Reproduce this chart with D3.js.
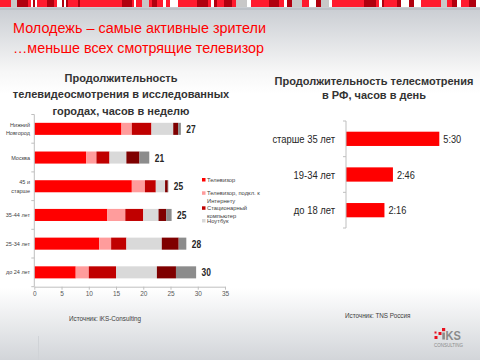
<!DOCTYPE html>
<html>
<head>
<meta charset="utf-8">
<script src="https://cdn.jsdelivr.net/npm/d3@7"></script>
<style>
  body { margin: 0; }
  svg { display: block; font-family: "Liberation Sans", Arial, sans-serif; }
</style>
</head>
<body>
<svg id="slide" width="480" height="360"></svg>
<script>
// левая диаграмма: часы в неделю по устройствам
var cities = ["Нижний\nНовгород", "Москва", "45 и\nстарше", "35-44 лет", "25-34 лет", "до 24 лет"];
var seriesNames = ["Телевизор", "Телевизор, подкл. к\nИнтернету", "Стационарный\nкомпьютер", "Ноутбук", "Прочее 1", "Прочее 2"];
var tv       = [16.0, 9.5, 17.9, 13.4, 11.9, 7.6];
var tvNet    = [1.9, 1.9, 2.4, 3.3, 2.2, 2.4];
var pc       = [3.6, 2.4, 2.0, 3.3, 2.8, 5.0];
var notebook = [4.0, 3.1, 1.7, 2.8, 6.5, 7.5];
var other1   = [0.9, 2.4, 0.5, 1.4, 3.1, 3.5];
var other2   = [0.5, 1.8, 0.1, 1.0, 1.4, 3.7];
var totals   = ["27", "21", "25", "25", "28", "30"];
var xTicks   = [0, 5, 10, 15, 20, 25, 30, 35];

// правая диаграмма: часы в день
var ages  = ["старше 35 лет", "19-34 лет", "до 18 лет"];
var hours = ["5:30", "2:46", "2:16"];

// полоска сверху (цвет, ширина)
var stripe = [
  ["r",11],["g",6],["d",11],["r",3],["w",2],["d",2],["w",2],["r",10],["d",7],["r",3],["w",5],["d",2],["w",2],["d",2],["r",10],["d",2],
  ["r",42],["d",10],["r",2],["w",2],["r",6],["g",7],["r",3],["d",5],["r",6],["w",3],["r",4],
  ["w",8],["r",19],["d",11],["r",3],["w",3],["d",3],["r",7],["d",8],["r",4],["g",11],["w",4],["r",18],["d",10],["r",5],["w",3],["d",5],["g",10],["r",7],["w",7],["d",5],["g",8],
  ["w",3],["r",32],["d",12],["r",3],["w",3],["d",2],["r",13],["d",4],["w",8],["d",5],["w",7],["r",20],["g",6],["r",5],["d",5],["w",4],["r",8],["d",7],["w",8],["g",5]
];
var stripeColors = {r: "#ff1a2e", d: "#b0000f", g: "#c8c8c8", w: "#ffffff"};

var colors = ["#ff0000", "#ff9c9c", "#c00000", "#d9d9d9", "#7f0000", "#8c8c8c"];

var svg = d3.select("#slide");

// сжатый текст (узкий шрифт не установлен)
function narrowText(parent, tx, ty, str, size, anchor, sx){
  return parent.append("g")
    .attr("transform", "translate(" + tx + "," + ty + ") scale(" + (sx || 0.82) + ",1)")
    .append("text")
    .attr("text-anchor", anchor || "start")
    .attr("font-size", size)
    .text(str);
}

// фон
var defs = svg.append("defs");
var grad = defs.append("linearGradient").attr("id", "bg").attr("x1", 0).attr("y1", 0).attr("x2", 0).attr("y2", 1);
grad.append("stop").attr("offset", 0).attr("stop-color", "#c4c8ce");
grad.append("stop").attr("offset", 0.2).attr("stop-color", "#f7f7f7");
grad.append("stop").attr("offset", 0.26).attr("stop-color", "#ffffff");
grad.append("stop").attr("offset", 0.8).attr("stop-color", "#ffffff");
grad.append("stop").attr("offset", 1).attr("stop-color", "#d2d5d9");
svg.append("rect").attr("width", 480).attr("height", 360).attr("fill", "url(#bg)");

var sx = 0;
svg.append("g").selectAll("rect")
  .data(stripe)
  .enter().append("rect")
  .attr("x", function(d){ var v = sx; sx += d[1]; return v; })
  .attr("y", 0)
  .attr("width", function(d){ return d[1]; })
  .attr("height", 7)
  .attr("fill", function(d){ return stripeColors[d[0]]; });
svg.append("rect").attr("x", 0).attr("y", 8).attr("width", 480).attr("height", 2).attr("fill", "#bcc1c7");

// заголовок
svg.append("text").attr("x", 13).attr("y", 32.5)
  .attr("fill", "#ff0000").attr("font-size", 15.5)
  .attr("textLength", 253).attr("lengthAdjust", "spacingAndGlyphs")
  .text("Молодежь – самые активные зрители");
svg.append("text").attr("x", 13).attr("y", 53)
  .attr("fill", "#ff0000").attr("font-size", 15.5)
  .attr("textLength", 251).attr("lengthAdjust", "spacingAndGlyphs")
  .text("…меньше всех смотрящие телевизор");

function multiTitle(lines, cx, y0, dy){
  var t = svg.append("text").attr("text-anchor", "middle")
    .attr("font-weight", "bold").attr("font-size", 11).attr("fill", "#333333");
  lines.forEach(function(l, i){
    t.append("tspan").attr("x", cx).attr("y", y0 + i*dy).text(l);
  });
}
multiTitle(["Продолжительность", "телевидеосмотрения в исследованных", "городах, часов в неделю"], 121, 82, 16.3);
multiTitle(["Продолжительность телесмотрения", "в РФ, часов в день"], 374, 84.5, 14.5);

// ---------- левая диаграмма ----------
var x = d3.scaleLinear().domain([0, 35]).range([34.3, 225]);
var y = d3.scaleBand().domain(cities).range([114.5, 286.7]).paddingInner(0.58).paddingOuter(0.29);

var series = [tv, tvNet, pc, notebook, other1, other2];
var rows = cities.map(function(c, i){
  var o = {city: c};
  series.forEach(function(s, k){ o["s" + k] = s[i]; });
  return o;
});
var keys = series.map(function(s, k){ return "s" + k; });
var stacked = d3.stack().keys(keys)(rows);

svg.append("g").selectAll("g")
  .data(stacked)
  .enter().append("g")
  .attr("fill", function(d, i){ return colors[i]; })
  .selectAll("rect")
  .data(function(d){ return d; })
  .enter().append("rect")
  .attr("x", function(d){ return x(d[0]); })
  .attr("y", function(d){ return y(d.data.city); })
  .attr("width", function(d){ return x(d[1]) - x(d[0]); })
  .attr("height", y.bandwidth());

// суммы
var last = stacked[stacked.length - 1];
var totalsG = svg.append("g").attr("font-weight", "bold").attr("fill", "#262626");
last.forEach(function(d, i){
  narrowText(totalsG, x(d[1]) + 5.5, y(d.data.city) + y.bandwidth()/2 + 4, totals[i], 10.5, "start", 0.8);
});

// ось X
var xAxis = svg.append("g").attr("transform", "translate(0," + 286.7 + ")")
  .call(d3.axisBottom(x).tickValues(xTicks).tickSize(3).tickSizeOuter(0).tickPadding(2));
xAxis.select(".domain").attr("stroke", "#bfbfbf");
xAxis.selectAll(".tick line").attr("stroke", "#bfbfbf");
xAxis.selectAll(".tick text").attr("fill", "#595959").attr("font-size", 6.5)
  .attr("font-family", "'Liberation Sans', sans-serif");

// ось Y
var yg = svg.append("g");
yg.append("line").attr("x1", x(0)).attr("x2", x(0))
  .attr("y1", y.range()[0]).attr("y2", y.range()[1]).attr("stroke", "#bfbfbf");
yg.selectAll("line.tk")
  .data(d3.range(cities.length + 1))
  .enter().append("line").attr("class", "tk")
  .attr("x1", x(0) - 3).attr("x2", x(0))
  .attr("y1", function(i){ return y.range()[0] + i*y.step(); })
  .attr("y2", function(i){ return y.range()[0] + i*y.step(); })
  .attr("stroke", "#bfbfbf");
yg.selectAll("text.cat")
  .data(cities)
  .enter().append("text").attr("class", "cat")
  .attr("text-anchor", "end").attr("font-size", 5.5).attr("fill", "#404040")
  .each(function(c){
    var parts = c.split("\n");
    var t = d3.select(this);
    var cy = y(c) + y.bandwidth()/2;
    parts.forEach(function(p, i){
      t.append("tspan").attr("x", 30)
        .attr("y", cy + 2 + (i - (parts.length - 1)/2) * 8.5).text(p);
    });
  });

// легенда
var legendY = [180, 193.3, 208.3, 221];
var lg = svg.append("g").selectAll("g")
  .data(seriesNames.slice(0, 4))
  .enter().append("g")
  .attr("transform", function(d, i){ return "translate(202," + legendY[i] + ")"; });
lg.append("rect").attr("x", 0).attr("y", -2).attr("width", 3.5).attr("height", 3.5)
  .attr("fill", function(d, i){ return colors[i]; });
lg.append("text").attr("font-size", 5.8).attr("fill", "#404040")
  .each(function(d){
    var t = d3.select(this);
    d.split("\n").forEach(function(p, i){
      t.append("tspan").attr("x", 5).attr("y", 2 + i*7.8).text(p);
    });
  });

svg.append("text").attr("x", 69).attr("y", 321).attr("font-size", 6.3).attr("fill", "#404040")
  .text("Источник: iKS-Consulting");

// ---------- правая диаграмма ----------
function toHours(s){ var p = s.split(":"); return +p[0] + p[1]/60; }
var x2 = d3.scaleLinear().domain([0, 5.5]).range([346, 439.3]);
var y2 = d3.scaleBand().domain(ages).range([121, 228]).paddingInner(0.6).paddingOuter(0.3);

svg.append("g").selectAll("rect")
  .data(ages)
  .enter().append("rect")
  .attr("x", x2(0))
  .attr("y", function(d){ return y2(d); })
  .attr("width", function(d, i){ return x2(toHours(hours[i])) - x2(0); })
  .attr("height", y2.bandwidth())
  .attr("fill", "#ff0000");

var valG = svg.append("g").attr("fill", "#262626");
ages.forEach(function(d, i){
  narrowText(valG, x2(toHours(hours[i])) + 4, y2(d) + y2.bandwidth()/2 + 4, hours[i], 11.5, "start", 0.8);
});

var yAxis2 = svg.append("g").attr("transform", "translate(" + x2(0) + ",0)");
yAxis2.append("line").attr("y1", y2.range()[0]).attr("y2", y2.range()[1]).attr("stroke", "#bfbfbf");
yAxis2.selectAll("line.tk")
  .data(d3.range(ages.length + 1))
  .enter().append("line").attr("class", "tk")
  .attr("x1", -3).attr("x2", 0)
  .attr("y1", function(i){ return y2.range()[0] + i*y2.step(); })
  .attr("y2", function(i){ return y2.range()[0] + i*y2.step(); })
  .attr("stroke", "#bfbfbf");
var catG = svg.append("g").attr("fill", "#262626");
ages.forEach(function(d){
  narrowText(catG, x2(0) - 11, y2(d) + y2.bandwidth()/2 + 4, d, 11.5, "end", 0.82);
});

svg.append("text").attr("x", 345).attr("y", 318).attr("font-size", 6.3).attr("fill", "#404040")
  .text("Источник: TNS Россия");

// декор: линия и логотип
svg.append("line").attr("x1", 38.5).attr("x2", 38.5).attr("y1", 336).attr("y2", 360)
  .attr("stroke", "#d0d3d7").attr("stroke-width", 1);
var logo = svg.append("g");
[[434.5, 336, 3], [438.5, 332, 3], [442, 328, 3.2], [434.5, 331.5, 2]].forEach(function(s){
  logo.append("rect").attr("x", s[0]).attr("y", s[1]).attr("width", s[2]).attr("height", s[2]).attr("fill", "#e8101e");
});
logo.append("rect").attr("x", 442.3).attr("y", 332.5).attr("width", 2.6).attr("height", 7).attr("fill", "#8a8a8a");
var kg = logo.append("g").attr("font-weight", "bold").attr("fill", "#8a8a8a");
narrowText(kg, 445.5, 340, "KS", 13.5, "start", 0.82);
logo.append("text").attr("x", 434).attr("y", 346.5)
  .attr("font-size", 4.6).attr("fill", "#8a8a8a")
  .attr("textLength", 29).attr("lengthAdjust", "spacingAndGlyphs").text("CONSULTING");
</script>
</body>
</html>
